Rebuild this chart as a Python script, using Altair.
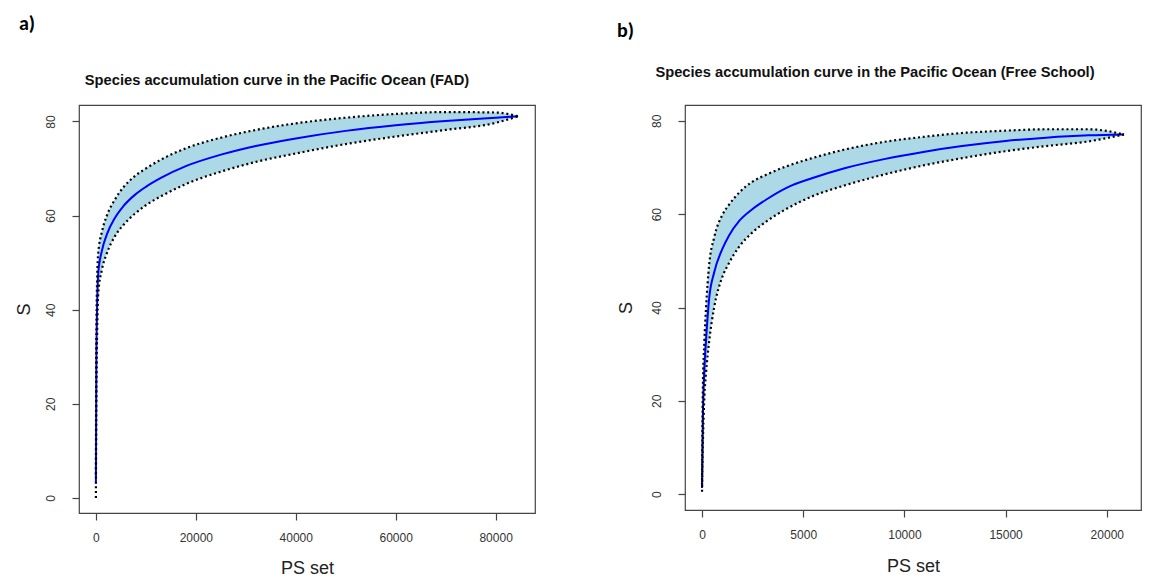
import altair as alt
import pandas as pd

# Panel a: FAD sets
fad_sets = [1, 100, 250, 470, 1200, 2200, 3800, 5500, 7800, 10000, 13200,
            18000, 25200, 32000, 40000, 50000, 60000, 70000, 80000, 84500]
fad_mean = [3, 30, 41, 47.7, 52.5, 56, 59.5, 62, 64.4, 66.1, 68.1,
            70.5, 73, 74.8, 76.4, 78, 79.2, 80.1, 80.8, 81.1]
fad_upper = [5, 36, 46.5, 52, 56.5, 60, 63.4, 66, 68.4, 70, 72,
             74.3, 76.6, 78.2, 79.6, 80.8, 81.6, 82, 81.9, 81.1]
fad_lower = [0, 24, 35, 43.4, 48.5, 52, 55.6, 58, 60.4, 62.2, 64.2,
             66.7, 69.4, 71.4, 73.2, 75.2, 76.8, 78.2, 79.7, 81.1]

# Panel b: free school sets
fs_sets = [1, 40, 120, 200, 350, 600, 1000, 1330, 1830, 2470, 3200, 4200,
           5430, 7000, 9000, 11000, 12850, 15000, 17000, 19100, 20850]
fs_mean = [1.3, 16, 27, 33, 41.8, 47.5, 52.5, 55.4, 58.5, 61, 63.2, 65.7,
           67.7, 69.8, 71.8, 73.4, 74.6, 75.7, 76.4, 76.9, 77.1]
fs_upper = [2, 22, 33, 40, 49, 55, 59.8, 62, 64.6, 66.9, 68.5, 70.3,
            72, 73.8, 75.5, 76.6, 77.4, 77.9, 78.2, 78.2, 77.1]
fs_lower = [0.5, 10, 21, 26, 32.6, 40, 46.5, 49.5, 53, 56, 58.5, 61.2,
            63.8, 66.1, 68.5, 70.5, 72, 73.5, 74.6, 75.6, 77.1]

y_ticks = [0, 20, 40, 60, 80]
fad_ticks = [0, 20000, 40000, 60000, 80000]
fs_ticks = [0, 5000, 10000, 15000, 20000]

FONT = "Liberation Sans"


def note(text, x, y, size, weight, align, font=FONT, color="black"):
    """A single piece of text placed relative to the panel's plot area."""
    return alt.Chart(pd.DataFrame({"t": [text]})).mark_text(
        font=font, fontSize=size, fontWeight=weight, align=align,
        baseline="middle", color=color).encode(
        text="t:N", x=alt.value(x), y=alt.value(y))


def panel(sets, mean, lower, upper, xdom, ydom, xticks, title, tag,
          w, h, title_xy, s_x, ps_y, tag_xy):
    df = pd.DataFrame({"x": sets, "mean": mean, "lower": lower, "upper": upper})
    xs = alt.Scale(domain=xdom, nice=False, zero=False)
    ys = alt.Scale(domain=ydom, nice=False, zero=False)
    xa = alt.Axis(values=xticks, format="d", title="PS set", titleY=ps_y,
                  titleBaseline="middle")
    ya = alt.Axis(values=y_ticks, format="d", title="S", titleX=s_x,
                  titleBaseline="middle", titleAlign="center",
                  labelAngle=270, labelAlign="center",
                  labelBaseline="alphabetic", labelPadding=18)
    X = alt.X("x:Q", scale=xs, axis=xa)

    band = alt.Chart(df).mark_area(color="#ADD8E6", opacity=1,
                                   interpolate="monotone").encode(
        x=X, y=alt.Y("lower:Q", scale=ys, axis=ya), y2="upper:Q")
    line = alt.Chart(df).mark_line(color="#0000FF", strokeWidth=2,
                                   interpolate="monotone").encode(
        x=X, y=alt.Y("mean:Q", scale=ys, axis=ya))
    lo = alt.Chart(df).mark_line(color="black", strokeWidth=2.2,
                                 strokeDash=[2, 2.8],
                                 interpolate="monotone").encode(
        x=X, y=alt.Y("lower:Q", scale=ys, axis=ya))
    hi = alt.Chart(df).mark_line(color="black", strokeWidth=2.2,
                                 strokeDash=[2, 2.8],
                                 interpolate="monotone").encode(
        x=X, y=alt.Y("upper:Q", scale=ys, axis=ya))
    head = note(title, title_xy[0], title_xy[1], 14.7, "bold", "center",
                color="#111")
    label = note(tag, tag_xy[0], tag_xy[1], 20, "bold", "left",
                 font="Carlito, Calibri, Liberation Sans")

    return alt.layer(band, line, lo, hi, head, label).properties(
        width=w, height=h)


chart_a = panel(fad_sets, fad_mean, fad_lower, fad_upper,
                [-3380, 87880], [-3.2, 83.5], fad_ticks,
                "Species accumulation curve in the Pacific Ocean (FAD)", "a)",
                456, 408, (198, -24), -55, 55, (-60, -81))
chart_b = panel(fs_sets, fs_mean, fs_lower, fs_upper,
                [-840, 21690], [-3.4, 83.4], fs_ticks,
                "Species accumulation curve in the Pacific Ocean (Free School)",
                "b)", 456, 405, (190, -32), -59, 56, (-68, -74))

chart = alt.hconcat(chart_a, chart_b, spacing=150, bounds="flush").resolve_scale(
    x="independent", y="independent"
).properties(
    padding={"left": 14, "top": 13, "right": 0, "bottom": 0},
    background="white",
).configure_view(
    stroke="#444", strokeWidth=1.2
).configure_axis(
    domain=False, grid=False, ticks=True, tickColor="#444", tickSize=7,
    tickWidth=1.2, labelFont=FONT, labelFontSize=12, labelColor="#333",
    labelPadding=12, titleFont=FONT, titleFontSize=18,
    titleFontWeight="normal", titleColor="#222"
)

chart.save("out.html", embed_options={"renderer": "svg", "actions": False})
